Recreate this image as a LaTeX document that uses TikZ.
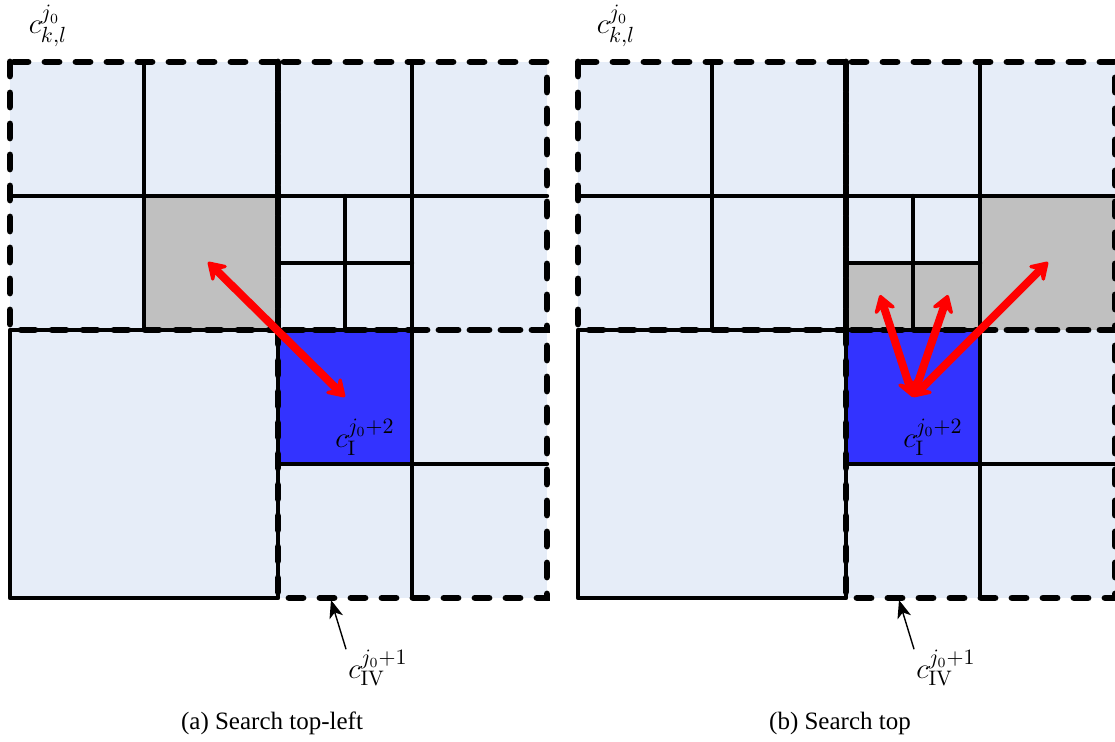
\documentclass[tikz,border=0pt]{standalone}
\usepackage{fontspec}
\newfontfamily\capfont{Liberation Serif}
\usetikzlibrary{arrows.meta}
\definecolor{cellbg}{RGB}{230,237,248}
\definecolor{cellgrey}{RGB}{192,192,192}
\definecolor{cellblue}{RGB}{51,51,255}
\begin{document}
\begin{tikzpicture}[x=0.5pt,y=-0.5pt,
  gridline/.style={line width=2.2pt, line cap=round, line join=round},
  quadline/.style={line width=3.4pt, dash pattern=on 7pt off 8.5pt, line cap=round},
  search/.style={red, line width=4pt,
    {Stealth[round,length=11pt,width=14pt,inset=4.5pt]}-{Stealth[round,length=11pt,width=14pt,inset=4.5pt]}},
  pointer/.style={line width=0.7pt, -{Stealth[length=9pt,width=7pt,inset=2.5pt]}},
  lbl/.style={font=\fontsize{15}{18}\selectfont, inner sep=0pt},
  captext/.style={font=\capfont\fontsize{12.5}{14}\selectfont, inner sep=0pt}]
\useasboundingbox (0,0) rectangle (1115,742);

% background cells and highlighted cells
\foreach \ox in {0,568} {
  \fill[cellbg] (\ox+10,62) rectangle (\ox+547,598);
  \fill[cellblue] (\ox+278,330) rectangle (\ox+412,464);
}
\fill[cellgrey] (144,196) rectangle (278,330);
\fill[cellgrey] (846,263) rectangle (980,330);
\fill[cellgrey] (980,196) rectangle (1115,330);

% quadrant outlines (dashed) and subdivisions (solid)
\foreach \ox in {0,568} {
  \draw[quadline] (\ox+10,62) rectangle (\ox+278,330);
  \draw[quadline] (\ox+278,62) rectangle (\ox+547,330);
  \draw[quadline] (\ox+278,330) rectangle (\ox+547,598);
  \draw[gridline] (\ox+144,62) -- (\ox+144,330);
  \draw[gridline] (\ox+10,196) -- (\ox+547,196);
  \draw[gridline] (\ox+412,62) -- (\ox+412,598);
  \draw[gridline] (\ox+412,464) -- (\ox+547,464);
  \draw[gridline] (\ox+345,196) -- (\ox+345,330);
  \draw[gridline] (\ox+278,263) -- (\ox+412,263);
  \draw[gridline] (\ox+278,196) rectangle (\ox+412,330);
  \draw[gridline] (\ox+10,330) rectangle (\ox+278,598);
  \draw[gridline] (\ox+278,330) rectangle (\ox+412,464);
}

% labels
\node[lbl] (kl-a) at (48,26) {$c^{j_0}_{k,l}$};
\node[lbl] (kl-b) at (616,26) {$c^{j_0}_{k,l}$};
\node[lbl] (ci-a) at (365,437) {$c^{j_0+2}_{\mathrm{I}}$};
\node[lbl] (ci-b) at (933,437) {$c^{j_0+2}_{\mathrm{I}}$};
\node[lbl] (civ-a) at (378,668) {$c^{j_0+1}_{\mathrm{IV}}$};
\node[lbl] (civ-b) at (946,668) {$c^{j_0+1}_{\mathrm{IV}}$};

% pointers to the dashed quadrant
\coordinate (pa) at (331,600);
\coordinate (pb) at (899,600);
\draw[pointer] ([xshift=-1pt]civ-a.north west) -- (pa);
\draw[pointer] ([xshift=-1pt]civ-b.north west) -- (pb);

% search directions
\coordinate (a1) at (208,262);
\coordinate (a2) at (345,397);
\draw[search] (a1) -- (a2);
\coordinate (b0) at (913,397);
\coordinate (b1) at (880,295);
\coordinate (b2) at (948,295);
\coordinate (b3) at (1048,262);
\draw[search] (b0) -- (b1);
\draw[search] (b0) -- (b2);
\draw[search] (b0) -- (b3);

% captions
\node[captext] (cap-a) at (272,723) {(a) Search top-left};
\node[captext] (cap-b) at (840,723) {(b) Search top};
\end{tikzpicture}
\end{document}
